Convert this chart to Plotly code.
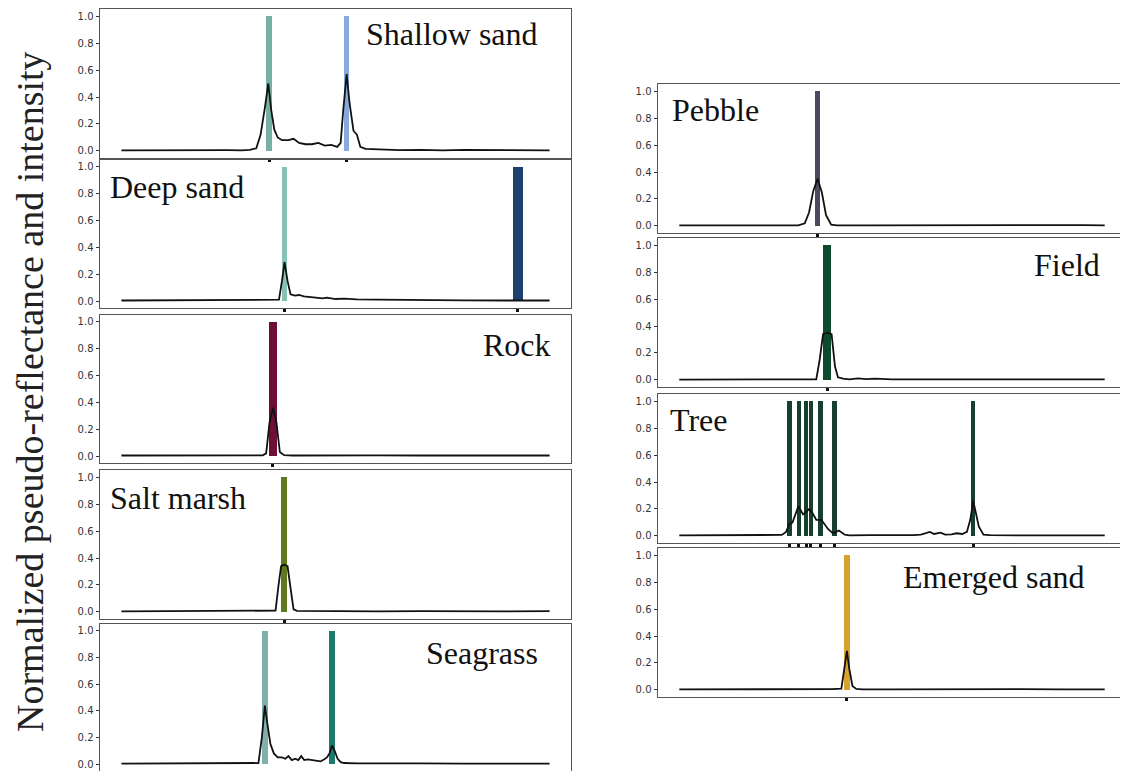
import plotly.graph_objects as go

# the page body adds an 8 px margin, so the figure is drawn 8 px in from the window corner
OFF = 8
W, H = 1128 - OFF, 771 - OFF

# ---- data (x in sample units 0..100, y normalized) ----
labels = ["Shallow sand", "Deep sand", "Rock", "Salt marsh", "Seagrass",
          "Pebble", "Field", "Tree", "Emerged sand"]

shallow_x = [0, 5, 10, 15, 20, 25, 28, 30, 31.5, 32.5, 33.5, 34.3, 35.0, 35.7, 36.5, 37.5, 39, 40.2, 41.5,
             43, 44.5, 46, 47.5, 49, 50.4, 51.2, 51.8, 52.6, 53.3, 54.2, 55.0, 55.8, 57, 60, 65, 70, 75, 80,
             85, 90, 95, 100]
shallow_y = [.005, .006, .004, .008, .005, .006, .005, .008, .02, .12, .32, .5, .3, .16, .1, .08, .08, .09, .06,
             .05, .05, .06, .04, .045, .03, .06, .3, .57, .35, .15, .12, .03, .015, .01, .006, .008, .005, .008,
             .006, .005, .007, .005]

deep_x = [0, 10, 20, 30, 35, 36.8, 37.5, 38.1, 38.8, 39.5, 40.5, 41.5, 42.6, 44, 45, 47, 48, 50, 52, 55, 60,
          65, 70, 80, 90, 95, 100]
deep_y = [.004, .005, .004, .005, .005, .01, .15, .29, .15, .05, .04, .045, .035, .03, .03, .02, .025, .015,
          .018, .012, .01, .008, .006, .005, .004, .005, .004]

rock_x = [0, 10, 20, 30, 33, 33.8, 34.6, 35.4, 36.2, 37, 38, 40, 50, 60, 70, 80, 90, 100]
rock_y = [.004, .005, .006, .005, .005, .02, .25, .36, .25, .03, .006, .004, .006, .005, .004, .005, .006, .004]

marsh_x = [0, 10, 20, 30, 35, 36, 36.7, 37.3, 38.0, 38.8, 39.4, 40.2, 41, 45, 50, 60, 70, 80, 90, 100]
marsh_y = [.005, .006, .005, .006, .005, .01, .2, .34, .35, .34, .2, .02, .008, .006, .005, .004, .006, .008,
           .005, .006]

seagrass_x = [0, 10, 20, 30, 32, 32.8, 33.5, 34.1, 34.8, 35.6, 36.5, 37.5, 38.3, 39, 39.8, 40.6, 41.3, 42,
              42.7, 43.5, 44.5, 45.5, 46.5, 47.3, 48, 48.6, 49.2, 49.8, 50.5, 51.2, 52, 55, 60, 70, 80, 90, 100]
seagrass_y = [.004, .005, .004, .006, .008, .2, .44, .3, .15, .08, .05, .05, .04, .06, .03, .04, .03, .06, .03,
              .035, .03, .025, .02, .035, .05, .08, .14, .1, .04, .015, .008, .005, .006, .005, .004, .005, .004]

pebble_x = [0, 10, 20, 28, 29.5, 30.5, 31.5, 32.5, 33.5, 34.5, 35.7, 37, 45, 55, 65, 75, 85, 95, 100]
pebble_y = [.005, .006, .005, .005, .02, .1, .26, .35, .25, .08, .01, .004, .005, .006, .005, .007, .005, .006,
            .005]

field_x = [0, 10, 20, 30, 32.2, 33, 33.8, 34.8, 35.8, 36.6, 37.3, 38.5, 40, 42, 44, 46, 50, 60, 70, 80, 90, 100]
field_y = [.003, .004, .003, .004, .005, .15, .34, .35, .34, .1, .02, .01, .005, .012, .006, .01, .005, .004,
           .005, .006, .004, .004]

tree_x = [0, 10, 20, 24.1, 25.1, 25.9, 26.6, 27.3, 28.0, 29.1, 30.0, 30.5, 31.3, 32.2, 33.4, 34.2, 35.0, 36.1,
          37.0, 37.5, 38.9, 40, 45, 50, 55, 56.8, 58.0, 58.9, 59.9, 60.6, 61.4, 62.5, 64, 65.2, 66.5, 67.6, 68.4,
          69.1, 69.8, 70.4, 71.5, 73, 80, 90, 100]
tree_y = [.004, .005, .005, .008, .03, .09, .1, .16, .22, .16, .19, .2, .17, .12, .12, .08, .05, .02, .03, .04,
          .01, .005, .006, .005, .006, .01, .02, .03, .015, .02, .025, .01, .012, .02, .015, .03, .12, .26, .15,
          .07, .01, .006, .005, .006, .004]

emerged_x = [0, 10, 20, 30, 36, 38.1, 38.8, 39.4, 40.0, 40.7, 41.6, 43, 50, 60, 70, 80, 90, 100]
emerged_y = [.005, .004, .006, .005, .006, .01, .15, .29, .15, .03, .008, .005, .004, .006, .005, .007, .005,
             .004]

wave_x = [shallow_x, deep_x, rock_x, marsh_x, seagrass_x, pebble_x, field_x, tree_x, emerged_x]
wave_y = [shallow_y, deep_y, rock_y, marsh_y, seagrass_y, pebble_y, field_y, tree_y, emerged_y]

# bar (class) positions, widths, colours
bar_x = [[34.5, 52.6], [38.1, 92.6], [35.4], [38.0], [33.5, 49.2],
         [32.5], [34.8], [25.9, 28.1, 29.8, 30.9, 33.2, 36.5, 69.1], [39.4]]
bar_w = [[1.4, 1.3], [1.2, 2.2], [1.9], [1.4], [1.3, 1.4],
         [1.3], [1.9], [1.0, 1.0, 1.0, 1.0, 1.0, 1.0, 1.0], [1.4]]
bar_c = [["#76b1a3", "#86aadb"], ["#86c3b5", "#1c416f"], ["#6e0f3a"], ["#5f7a1e"], ["#7fb0ab", "#1d7a6a"],
         ["#4b4a5c"], ["#0c4a2b"], ["#173f2d"] * 7, ["#d9a22e"]]

# ---- layout in window pixels: (left, right, top, bottom) of each axes box ----
boxes = [(100, 571, 9, 158), (100, 571, 160, 308), (100, 571, 315, 463), (100, 571, 470, 619),
         (100, 571, 624, 772), (658, 1126, 84, 233), (658, 1126, 238, 387), (658, 1126, 394, 543),
         (658, 1126, 548, 697)]
# label placement: (x px, y px centre, anchor)
label_pos = [(540, 34, "right"), (108, 187, "left"), (553, 345, "right"), (108, 498, "left"),
             (540, 653, "right"), (670, 110, "left"), (1102, 265, "right"), (668, 420, "left"),
             (1087, 577, "right")]


def fx(p):
    return min(max((p - OFF) / W, 0), 1)


def fy(p):
    return min(max(1 - (p - OFF) / H, 0), 1)


fig = go.Figure()
layout = dict(width=W, height=H, margin=dict(l=0, r=0, t=0, b=0, autoexpand=False), showlegend=False,
              plot_bgcolor="white", paper_bgcolor="white", bargap=0, barmode="overlay")
annotations = []

for i in range(9):
    n = "" if i == 0 else str(i + 1)
    xa, ya = "x" + n, "y" + n
    fig.add_trace(go.Bar(x=bar_x[i], y=[1.0] * len(bar_x[i]), width=bar_w[i],
                         marker=dict(color=bar_c[i], line_width=0), xaxis=xa, yaxis=ya))
    fig.add_trace(go.Scatter(x=wave_x[i], y=wave_y[i], mode="lines",
                             line=dict(color="#111111", width=1.8), xaxis=xa, yaxis=ya))
    l, r, t, b = boxes[i]
    layout["xaxis" + n] = dict(domain=[fx(l), fx(r)], anchor=ya, range=[-5, 105], automargin=False,
                               tickvals=bar_x[i], ticktext=[""] * len(bar_x[i]), ticks="outside",
                               ticklen=3, tickwidth=3, tickcolor="#111",
                               showline=True, mirror=True, linecolor="#555", linewidth=1,
                               showgrid=False, zeroline=False)
    layout["yaxis" + n] = dict(domain=[fy(b), fy(t)], anchor=xa, range=[-0.052, 1.052],
                               automargin=False,
                               tickvals=[0, 0.2, 0.4, 0.6, 0.8, 1.0],
                               ticktext=["0.0", "0.2", "0.4", "0.6", "0.8", "1.0"],
                               ticks="outside", ticklen=3.5, tickwidth=1, tickcolor="#333",
                               tickfont=dict(family="DejaVu Sans", size=10, color="#333"),
                               showline=True, mirror=True, linecolor="#555", linewidth=1,
                               showgrid=False, zeroline=False)
    px, py, anc = label_pos[i]
    annotations.append(dict(text=labels[i], x=fx(px), y=fy(py), xref="paper", yref="paper",
                            xanchor=anc, yanchor="middle", showarrow=False,
                            font=dict(family="Liberation Serif", size=32, color="#111")))

annotations.append(dict(text="Normalized pseudo-reflectance and intensity", x=0, y=fy(392),
                        xref="paper", yref="paper", xanchor="left", yanchor="middle", textangle=-90,
                        showarrow=False, borderpad=0,
                        font=dict(family="Liberation Serif", size=38, color="#222")))
layout["annotations"] = annotations
fig.update_layout(**layout)

fig.write_html("out.html")
